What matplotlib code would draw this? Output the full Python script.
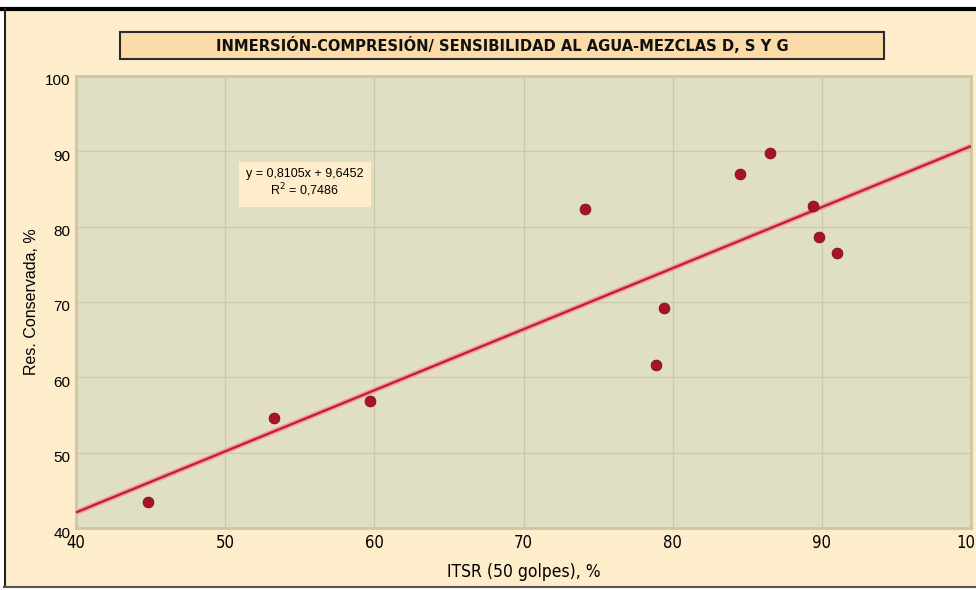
import matplotlib.pyplot as plt
from matplotlib.patches import Rectangle
from matplotlib.lines import Line2D
from matplotlib.transforms import ScaledTranslation
import numpy as np

W, H = 976, 590

# ITSR (50 golpes) vs resistencia conservada, mezclas D, S y G
itsr = [44.8, 53.3, 59.7, 74.1, 78.9, 79.4, 84.5, 86.5, 89.4, 89.8, 91.0]
res_conservada = [43.4, 54.6, 56.8, 82.3, 61.6, 69.2, 87.0, 89.8, 82.7, 78.6, 76.5]

slope = 0.8105
intercept = 9.6452
r2 = 0.7486

xticks = [40, 50, 60, 70, 80, 90, 100]
yticks = [40, 50, 60, 70, 80, 90, 100]

PEACH = '#FDEDCA'
PLOT_BG = '#E1DFC3'
GRID = '#CCCAAE'
REGULAR = ['Liberation Sans', 'DejaVu Sans']

fig = plt.figure(figsize=(W / 100, H / 100), dpi=100)
fig.patch.set_facecolor('white')

# fondo de la ficha con el marco negro
fig.patches.append(Rectangle((4 / W, 3 / H), (W - 4) / W, (H - 12) / H,
                             transform=fig.transFigure, facecolor=PEACH,
                             edgecolor='none', zorder=-2))
fig.add_artist(Line2D([0, 1], [1 - 9 / H, 1 - 9 / H], transform=fig.transFigure,
                      color='black', lw=3))
fig.add_artist(Line2D([4.5 / W, 4.5 / W], [3 / H, 1 - 9 / H], transform=fig.transFigure,
                      color='#222222', lw=1.5))
fig.add_artist(Line2D([4 / W, 1], [3 / H, 3 / H], transform=fig.transFigure,
                      color='#555555', lw=1.5))

# caja del título
fig.patches.append(Rectangle((120 / W, 1 - 59 / H), 764 / W, 27 / H,
                             transform=fig.transFigure, facecolor='#FBDCA8',
                             edgecolor='#2b2b2b', lw=1.5, zorder=1))
fig.text(502 / W, 1 - 45.5 / H, 'INMERSIÓN-COMPRESIÓN/ SENSIBILIDAD AL AGUA-MEZCLAS D, S Y G',
         ha='center', va='center', fontsize=11.8, fontweight='bold', family='DejaVu Sans',
         fontstretch='condensed', color='#111111', zorder=2)

ax = fig.add_axes([76 / W, 1 - 528 / H, 895 / W, 452 / H])
ax.set_facecolor(PLOT_BG)
for s in ax.spines.values():
    s.set_color('#CFC6A6')
    s.set_linewidth(2)

ax.set_xlim(40, 100)
ax.set_ylim(40, 100)
ax.set_xticks(xticks)
ax.set_yticks(yticks)
ax.grid(True, color=GRID, lw=0.9)
ax.set_axisbelow(True)
ax.tick_params(length=0, pad=4)
for lbl in ax.get_xticklabels():
    lbl.set_family('DejaVu Sans')
    lbl.set_stretch('condensed')
    lbl.set_fontsize(12)
shift = ScaledTranslation(0, -4 / 100, fig.dpi_scale_trans)
for lbl in ax.get_yticklabels():
    lbl.set_family(REGULAR)
    lbl.set_fontsize(11)
    lbl.set_transform(lbl.get_transform() + shift)
ax.set_xlabel('ITSR (50 golpes), %', family='DejaVu Sans', fontstretch='condensed',
              fontsize=12.5, labelpad=8)
ax.set_ylabel('Res. Conservada, %', family=REGULAR, fontsize=11.5, labelpad=4)

# recta de regresión
xl = np.array([40, 100])
yl = slope * xl + intercept
ax.plot(xl, yl, color='#F2A0A4', lw=4, solid_capstyle='butt', zorder=2, clip_on=False)
ax.plot(xl, yl, color='#C0222F', lw=1.7, solid_capstyle='butt', zorder=3, clip_on=False)

ax.scatter(itsr, res_conservada, s=60, color='#A8122A', edgecolor='#7A0E1E',
           lw=0.6, zorder=4)

eq = 'y = ' + f'{slope:.4f}'.replace('.', ',') + 'x + ' + f'{intercept:.4f}'.replace('.', ',')
r2_txt = 'R$^2$ = ' + f'{r2:.4f}'.replace('.', ',')
ax.text(55.35, 85.7, eq + '\n' + r2_txt, ha='center', va='center', fontsize=9,
        family=REGULAR, linespacing=1.1,
        bbox=dict(boxstyle='square,pad=0.6', facecolor=PEACH, edgecolor='none'))

fig.savefig('out.png', dpi=100, facecolor=fig.get_facecolor())
